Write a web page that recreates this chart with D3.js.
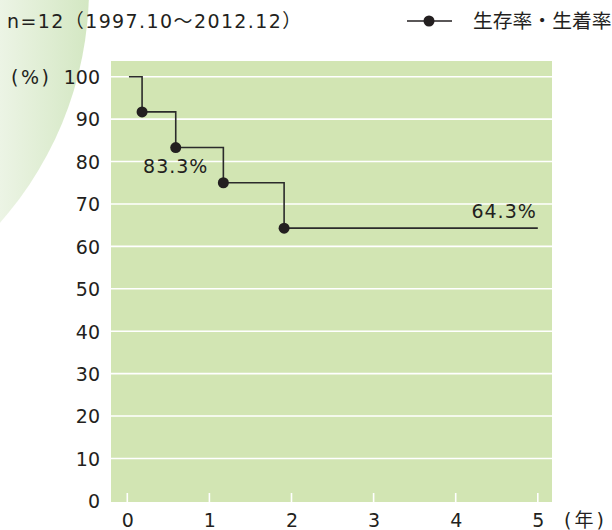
<!DOCTYPE html>
<html><head><meta charset="utf-8">
<script src="https://cdn.jsdelivr.net/npm/d3@7"></script>
<style>
html,body{margin:0;padding:0;background:#fff;}
svg{display:block;}
text{font-family:"DejaVu Sans","Noto Sans CJK JP",sans-serif;fill:#231f20;}
</style></head>
<body>
<svg id="c" width="612" height="530"></svg>
<script>
// ---- data ----
const times = [0.02, 0.18, 0.59, 1.17, 1.91];
const survival = [100, 91.7, 83.3, 75.0, 64.3];
const endTime = 5;
const yTicks = [0, 10, 20, 30, 40, 50, 60, 70, 80, 90, 100];
const xTicks = [0, 1, 2, 3, 4, 5];
const titleText = "n=12（1997.10～2012.12）";
const legendText = "生存率・生着率";
const yUnit = "(%)";
const xUnit = "(年)";
const callouts = [{t: 0.59, v: 83.3, text: "83.3%"}, {t: 5, v: 64.3, text: "64.3%"}];

// ---- layout ----
const svg = d3.select("#c");
const plot = {left: 111, right: 552, top: 61, bottom: 502};
const x = d3.scaleLinear().domain([0, 5]).range([127.3, 537.8]);
const y = d3.scaleLinear().domain([0, 100]).range([500.9, 76.7]);

// background decorative arc
const defs = svg.append("defs");
const g1 = defs.append("linearGradient").attr("id", "bg").attr("gradientUnits", "userSpaceOnUse")
  .attr("x1", 0).attr("y1", 0).attr("x2", 90).attr("y2", 0);
g1.append("stop").attr("offset", 0).attr("stop-color", "#ecf4e5");
g1.append("stop").attr("offset", 1).attr("stop-color", "#d3e7c2");
svg.append("circle").attr("cx", -265).attr("cy", -12).attr("r", 354).attr("fill", "url(#bg)");

// plot area
svg.append("rect").attr("x", plot.left).attr("y", plot.top)
  .attr("width", plot.right - plot.left).attr("height", plot.bottom - plot.top)
  .attr("fill", "#d2e5b3");

// grid lines
svg.append("g").selectAll("line").data(yTicks.filter(d => d > 0)).join("line")
  .attr("x1", plot.left).attr("x2", plot.right)
  .attr("y1", d => y(d)).attr("y2", d => y(d))
  .attr("stroke", "#fff").attr("stroke-width", 1.6);

// bottom small white ticks
svg.append("g").selectAll("line").data(xTicks).join("line")
  .attr("x1", d => x(d)).attr("x2", d => x(d))
  .attr("y1", 493).attr("y2", plot.bottom)
  .attr("stroke", "#fff").attr("stroke-width", 1.6);

// y axis labels
const yAxis = d3.axisLeft(y).tickValues(yTicks).tickSize(0).tickPadding(0).tickFormat(d3.format("d"));
const ya = svg.append("g").attr("transform", "translate(100,0)").call(yAxis);
ya.select(".domain").remove();
ya.selectAll("text").attr("font-size", 19).attr("fill", "#231f20")
  .style("font-family", '"DejaVu Sans","Noto Sans CJK JP",sans-serif').attr("dy", "0.36em");

// x axis labels
const xAxis = d3.axisBottom(x).tickValues(xTicks).tickSize(0).tickPadding(0).tickFormat(d3.format("d"));
const xa = svg.append("g").attr("transform", "translate(0,513)").call(xAxis);
xa.select(".domain").remove();
xa.selectAll("text").attr("font-size", 19).attr("fill", "#231f20")
  .style("font-family", '"DejaVu Sans","Noto Sans CJK JP",sans-serif').attr("dy", "0.73em");

// unit labels
svg.append("text").attr("x", 11).attr("y", y(100)).attr("dy", "0.36em")
  .attr("font-size", 19).attr("letter-spacing", 2.5).text(yUnit);
svg.append("text").attr("x", 564).attr("y", 527)
  .attr("font-size", 19).attr("letter-spacing", 3).text(xUnit);

// step curve
const pts = times.map((t, i) => [t, survival[i]]);
pts.push([endTime, survival[survival.length - 1]]);
const line = d3.line().x(d => x(d[0])).y(d => y(d[1])).curve(d3.curveStepAfter);
svg.append("path").attr("d", line(pts)).attr("fill", "none")
  .attr("stroke", "#2b2b2b").attr("stroke-width", 1.6);

// markers
svg.append("g").selectAll("circle").data(times.slice(1).map((t, i) => [t, survival[i + 1]])).join("circle")
  .attr("cx", d => x(d[0])).attr("cy", d => y(d[1])).attr("r", 5.5).attr("fill", "#231f20");

// callouts
svg.append("text").attr("x", x(callouts[0].t)).attr("y", y(callouts[0].v) + 25)
  .attr("text-anchor", "middle").attr("font-size", 19).attr("letter-spacing", 1).text(callouts[0].text);
svg.append("text").attr("x", x(callouts[1].t) - 1).attr("y", y(callouts[1].v) - 10)
  .attr("text-anchor", "end").attr("font-size", 19).attr("letter-spacing", 1).text(callouts[1].text);

// title
svg.append("text").attr("x", 7).attr("y", 28).attr("font-size", 19).attr("letter-spacing", 1.4)
  .text(titleText);

// legend
svg.append("line").attr("x1", 407).attr("x2", 452).attr("y1", 21).attr("y2", 21)
  .attr("stroke", "#231f20").attr("stroke-width", 1.6);
svg.append("circle").attr("cx", 429).attr("cy", 21).attr("r", 5.5).attr("fill", "#231f20");
svg.append("text").attr("x", 473).attr("y", 28).attr("font-size", 19.8)
  .style("font-family", '"Noto Sans CJK JP",sans-serif').text(legendText);
</script>
</body></html>
